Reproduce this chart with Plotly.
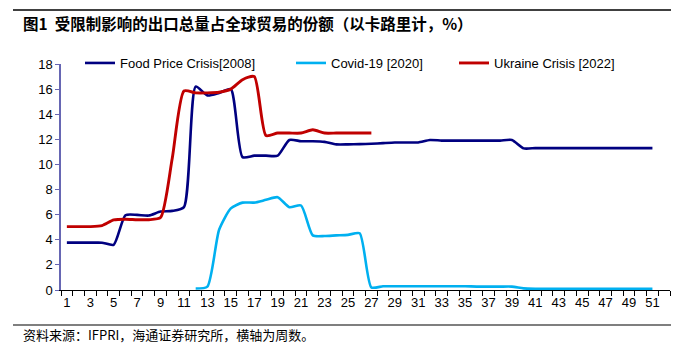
import plotly.graph_objects as go

weeks = list(range(1, 53))

food_weeks = list(range(1, 52))
food = [3.77, 3.77, 3.77, 3.77, 3.6, 5.95, 5.98, 5.93, 6.25, 6.3,
        6.6, 16.2, 15.5, 15.7, 16.0, 10.58, 10.7, 10.7, 10.7, 11.95,
        11.85, 11.85, 11.8, 11.6, 11.6, 11.62, 11.65, 11.7, 11.75, 11.75,
        11.75, 11.95, 11.9, 11.9, 11.9, 11.9, 11.9, 11.9, 11.95, 11.28,
        11.3, 11.3, 11.3, 11.3, 11.3, 11.3, 11.3, 11.3, 11.3, 11.3, 11.3]

covid_weeks = list(range(12, 52))
covid = [0.12, 0.27, 4.8, 6.5, 6.96, 6.96, 7.18, 7.39, 6.6, 6.73,
         4.35, 4.3, 4.35, 4.39, 4.52, 0.2, 0.3, 0.3, 0.3, 0.3,
         0.3, 0.3, 0.3, 0.3, 0.27, 0.27, 0.27, 0.27, 0.13, 0.1,
         0.1, 0.1, 0.1, 0.1, 0.1, 0.1, 0.1, 0.1, 0.1, 0.1]

ukraine_weeks = list(range(1, 28))
ukraine = [5.05, 5.05, 5.05, 5.13, 5.58, 5.64, 5.6, 5.6, 5.77, 10.5,
           15.85, 15.7, 15.7, 15.75, 16.0, 16.75, 17.0, 12.3, 12.5, 12.5,
           12.5, 12.76, 12.5, 12.5, 12.5, 12.5, 12.5]

tick_weeks = list(range(1, 52, 2))
tick_labels = [str(w) for w in tick_weeks]

title_text = "图1  受限制影响的出口总量占全球贸易的份额（以卡路里计，%）"
source_text = "资料来源：IFPRI，海通证券研究所，横轴为周数。"

W, H = 687, 351
ML, MR, MT, MB = 61, 17, 64, 61
PW, PH = W - ML - MR, H - MT - MB


def px_x(x):
    return (x - ML) / PW


def px_y(y):
    return (H - MB - y) / PH


fig = go.Figure()
fig.add_trace(go.Scatter(x=food_weeks, y=food, mode="lines", name="Food Price Crisis[2008]",
                         legend="legend",
                         line=dict(color="#000080", width=2.6, shape="spline", smoothing=0.6)))
fig.add_trace(go.Scatter(x=covid_weeks, y=covid, mode="lines", name="Covid-19 [2020]",
                         legend="legend2",
                         line=dict(color="#00B0F0", width=2.6, shape="spline", smoothing=0.6)))
fig.add_trace(go.Scatter(x=ukraine_weeks, y=ukraine, mode="lines", name="Ukraine Crisis [2022]",
                         legend="legend3",
                         line=dict(color="#C00000", width=2.9, shape="spline", smoothing=0.6)))

leg_common = dict(yanchor="middle", xanchor="left", font=dict(size=13),
                  bgcolor="rgba(0,0,0,0)", borderwidth=0, itemwidth=30)
fig.update_layout(
    width=W, height=H,
    margin=dict(l=ML, r=MR, t=MT, b=MB),
    plot_bgcolor="white", paper_bgcolor="white",
    font=dict(family="Liberation Sans, Arial, sans-serif", size=13, color="black"),
    showlegend=True,
    legend=dict(x=px_x(80), y=px_y(63), **leg_common),
    legend2=dict(x=px_x(291), y=px_y(63), **leg_common),
    legend3=dict(x=px_x(454), y=px_y(63), **leg_common),
)
fig.update_xaxes(
    range=[0.5, 52.5], tickmode="array", tickvals=tick_weeks, ticktext=tick_labels,
    ticks="", showgrid=False, zeroline=False, showline=True, linecolor="black", linewidth=1,
    tickfont=dict(size=13),
    minor=dict(tickmode="linear", tick0=0.5, dtick=1, ticks="outside", ticklen=5,
               tickcolor="black", showgrid=False),
)
fig.update_yaxes(
    range=[0, 18], dtick=2, ticks="outside", ticklen=4, tickcolor="#6666B3",
    showgrid=False, zeroline=False, showline=True, linecolor="#6666B3", linewidth=1.5,
    tickfont=dict(size=13),
)

shapes = [
    dict(type="line", xref="paper", yref="paper",
         x0=px_x(13), x1=px_x(671), y0=px_y(10), y1=px_y(10),
         line=dict(color="black", width=1.5)),
    dict(type="line", xref="paper", yref="paper",
         x0=px_x(13), x1=px_x(671), y0=px_y(325), y1=px_y(325),
         line=dict(color="black", width=1.2)),
]
fig.update_layout(shapes=shapes)

fig.add_annotation(text="<b>" + title_text + "</b>", xref="paper", yref="paper",
                   x=px_x(21), y=px_y(23), xanchor="left", yanchor="middle",
                   showarrow=False, font=dict(family="Noto Sans CJK SC", size=15.5, color="black"))
fig.add_annotation(text=source_text, xref="paper", yref="paper",
                   x=px_x(21), y=px_y(334), xanchor="left", yanchor="middle",
                   showarrow=False, font=dict(family="Noto Sans CJK SC", size=13, color="black"))

fig.write_html("out.html")
